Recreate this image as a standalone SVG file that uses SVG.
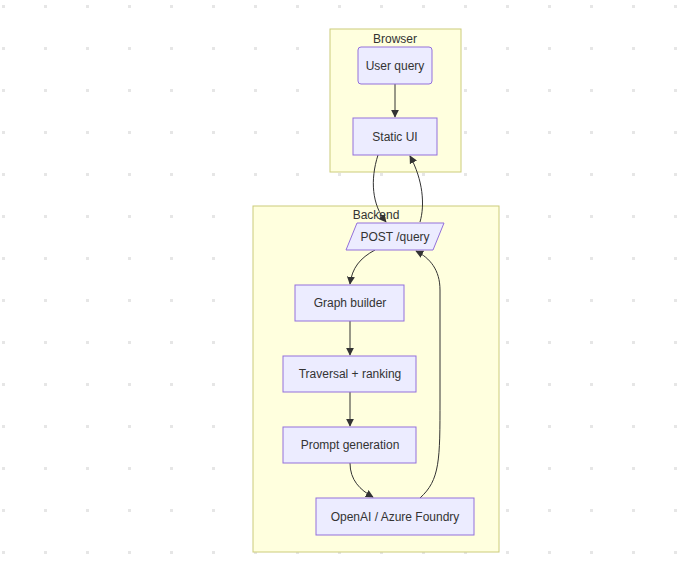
<svg xmlns="http://www.w3.org/2000/svg" width="700" height="564" viewBox="0 0 700 564">
<defs>
<pattern id="dots" x="2" y="5" width="42" height="42" patternUnits="userSpaceOnUse"><rect width="3" height="3" fill="#e6e6e6"/></pattern>
<marker id="arr" viewBox="0 0 10 10" refX="9" refY="5" markerWidth="8" markerHeight="8" orient="auto-start-reverse"><path d="M0,0 L10,5 L0,10 z" fill="#333"/></marker>
<style>
.cl{fill:#ffffde;stroke:#cccc7a;stroke-width:1}
.n{fill:#ececff;stroke:#9370db;stroke-width:1}
.t{font-family:"Liberation Sans",Arial,sans-serif;font-size:12px;fill:#333;text-anchor:middle;dominant-baseline:central}
.e{fill:none;stroke:#333;stroke-width:1;marker-end:url(#arr)}
</style>
</defs>
<rect width="700" height="564" fill="#fff"/>
<rect width="700" height="564" fill="url(#dots)"/>
<g id="Browser"><rect class="cl" x="330" y="29" width="131" height="143"/><text class="t" x="395" y="39">Browser</text></g>
<g id="Backend"><rect class="cl" x="253" y="206" width="246" height="346"/><text class="t" x="376" y="215">Backend</text></g>
<g id="connectors">
<path class="e" d="M395,84 L395,117"/>
<path class="e" d="M378,155 C370,180 372,205 386,222"/>
<path class="e" d="M420,222 C425,205 423,180 410,156"/>
<path class="e" d="M375,250 C360,258 352,268 350,284"/>
<path class="e" d="M350,321 L350,355"/>
<path class="e" d="M350,392 L350,426"/>
<path class="e" d="M350,463 C350,480 360,490 373,497"/>
<path class="e" d="M420,498 C440,480 440,460 440,400 L440,290 C440,270 430,258 416,251"/>
</g>
<g id="user_query"><rect class="n" x="358" y="47" width="74" height="37" rx="3"/><text class="t" x="395" y="66">User query</text></g>
<g id="static_ui"><rect class="n" x="353" y="118" width="84" height="37"/><text class="t" x="395" y="137">Static UI</text></g>
<g id="post_query"><polygon class="n" points="357,223 444,223 433,250 346,250"/><text class="t" x="395" y="237">POST /query</text></g>
<g id="graph_builder"><rect class="n" x="295" y="285" width="109" height="36"/><text class="t" x="350" y="303">Graph builder</text></g>
<g id="traversal"><rect class="n" x="283" y="356" width="133" height="36"/><text class="t" x="350" y="374">Traversal + ranking</text></g>
<g id="prompt"><rect class="n" x="283" y="427" width="133" height="36"/><text class="t" x="350" y="445">Prompt generation</text></g>
<g id="openai"><rect class="n" x="316" y="498" width="158" height="37"/><text class="t" x="395" y="517">OpenAI / Azure Foundry</text></g>
</svg>
